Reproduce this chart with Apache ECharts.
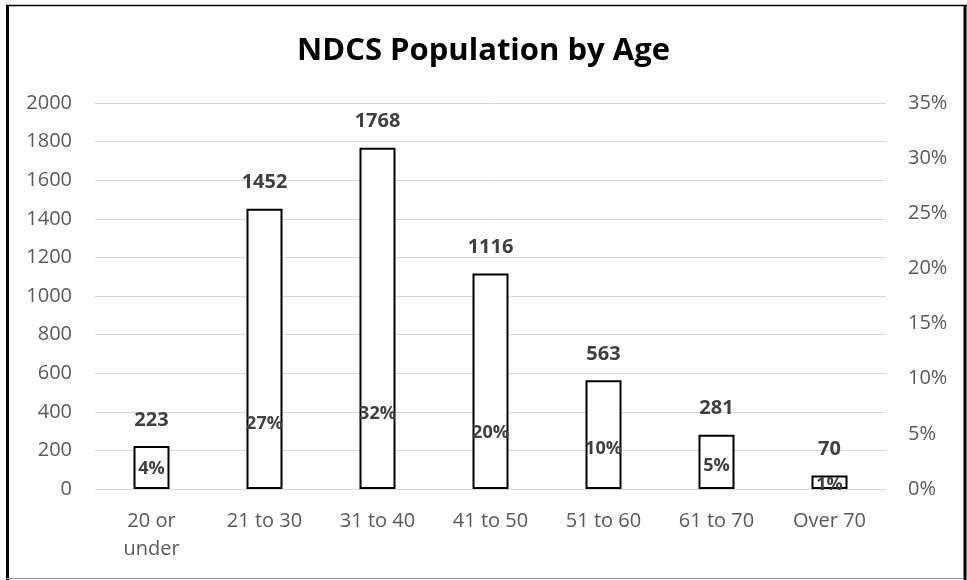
<!DOCTYPE html>
<html>
<head>
<meta charset="utf-8">
<script src="https://cdn.jsdelivr.net/npm/echarts@6/dist/echarts.min.js"></script>
<style>
html,body{margin:0;padding:0;background:#fff;overflow:hidden;}
#chart{width:967px;height:580px;}
</style>
</head>
<body>
<div id="chart"></div>
<script>
const categories = ['20 or\nunder', '21 to 30', '31 to 40', '41 to 50', '51 to 60', '61 to 70', 'Over 70'];
const population = [223, 1452, 1768, 1116, 563, 281, 70];
const percentages = ['4%', '27%', '32%', '20%', '10%', '5%', '1%'];
const leftTicks = [0, 2000, 200];
const rightTicks = [0, 0.35, 0.05];

// vertical placement of the percentage labels inside the bars (pixels)
const pctLabelOffsets = [-11, -56, -66, -47, -31, -14, 5];

const chart = echarts.init(document.getElementById('chart'));
const FONT = '"Open Sans", sans-serif';
const W = Math.min(chart.getWidth(), window.innerWidth || 967);
const H = Math.min(chart.getHeight(), window.innerHeight || 580);

chart.setOption({
  animation: false,
  backgroundColor: '#fff',
  title: {
    text: 'NDCS Population by Age',
    left: 'center',
    top: 31,
    textStyle: { fontFamily: FONT, fontSize: 31, fontWeight: 'bold', color: '#000' }
  },
  grid: { left: 95, right: 81, top: 103, bottom: 91, containLabel: false },
  xAxis: {
    type: 'category',
    data: categories,
    axisLine: { lineStyle: { color: '#d9d9d9', width: 1 } },
    axisTick: { show: false },
    axisLabel: { fontFamily: FONT, fontSize: 20, color: '#595959', margin: 18, lineHeight: 28, interval: 0 }
  },
  yAxis: [
    {
      type: 'value',
      min: leftTicks[0], max: leftTicks[1], interval: leftTicks[2],
      axisLine: { show: false }, axisTick: { show: false },
      splitLine: { lineStyle: { color: '#d9d9d9', width: 1 } },
      axisLabel: { fontFamily: FONT, fontSize: 20, color: '#595959', margin: 23, formatter: v => String(v) }
    },
    {
      type: 'value',
      min: rightTicks[0], max: rightTicks[1], interval: rightTicks[2],
      axisLine: { show: false }, axisTick: { show: false },
      splitLine: { show: false },
      axisLabel: {
        fontFamily: FONT, fontSize: 20, color: '#595959', margin: 22,
        formatter: v => Math.round(v * 100) + '%'
      }
    }
  ],
  series: [
    {
      name: 'Population',
      type: 'bar',
      data: population,
      barWidth: 36,
      itemStyle: { color: '#ffffff', borderColor: '#000000', borderWidth: 2 },
      label: {
        show: true, position: 'top', distance: 16,
        fontFamily: FONT, fontSize: 20, fontWeight: 'bold', color: '#404040', lineHeight: 20
      }
    },
    {
      name: 'Share',
      type: 'bar',
      data: population.map((v, i) => ({
        value: v,
        label: { offset: [0, pctLabelOffsets[i]] }
      })),
      barWidth: 36,
      barGap: '-100%',
      itemStyle: { color: 'rgba(0,0,0,0)', borderWidth: 0 },
      label: {
        show: true, position: 'insideBottom', distance: 0,
        fontFamily: FONT, fontSize: 18, fontWeight: 'bold', color: '#404040', lineHeight: 18,
        formatter: p => percentages[p.dataIndex]
      }
    }
  ],
  graphic: [
    { type: 'line', shape: { x1: 7.5, y1: 5, x2: 7.5, y2: H }, style: { stroke: '#000', lineWidth: 3 } },
    { type: 'line', shape: { x1: 6, y1: 5.5, x2: W, y2: 5.5 }, style: { stroke: '#000', lineWidth: 1.5 } },
    { type: 'line', shape: { x1: W - 2, y1: 5, x2: W - 2, y2: H }, style: { stroke: '#000', lineWidth: 3 } },
    { type: 'line', shape: { x1: 6, y1: H - 1.5, x2: W - 3, y2: H - 1.5 }, style: { stroke: '#999', lineWidth: 1 } }
  ]
});
</script>
</body>
</html>
